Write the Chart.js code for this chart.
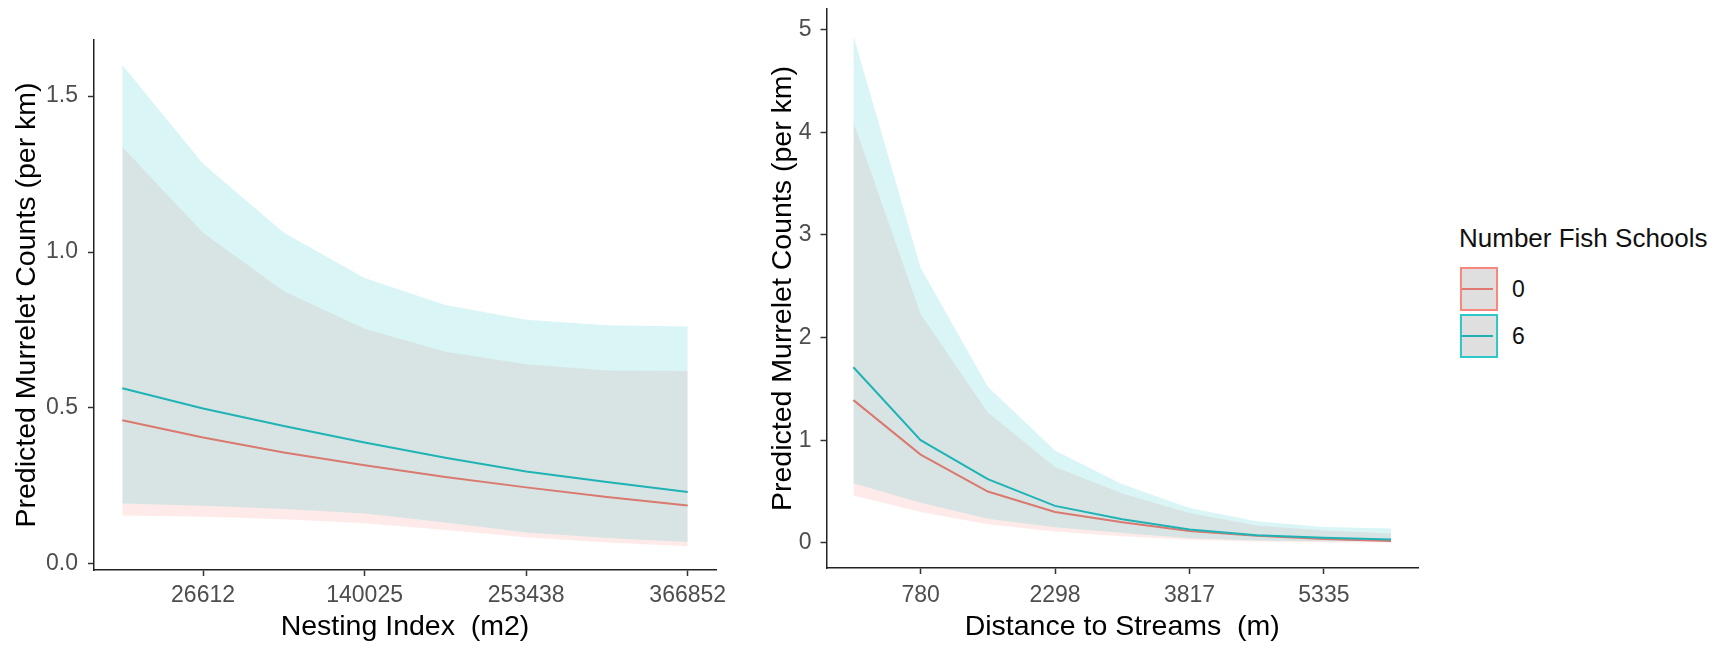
<!DOCTYPE html>
<html>
<head>
<meta charset="utf-8">
<script src="https://cdn.jsdelivr.net/npm/chart.js@4.4.1/dist/chart.umd.min.js"></script>
<style>
  body { margin: 0; background: #fff; width: 1729px; height: 647px; overflow: hidden; position: relative;
         font-family: 'Liberation Sans', Arial, sans-serif; }
  canvas { position: absolute; top: 0; }
  #nesting { left: 0; }
  #streams { left: 745px; }
  .lg-title { position: absolute; left: 1459px; top: 223px; font-size: 26px; line-height: 30px; color: #111; white-space: nowrap; }
  .key { position: absolute; left: 1460px; width: 38px; height: 44px; box-sizing: border-box; border: 2px solid; background: #dfdfdf; }
  .key i { position: absolute; left: 0; right: 3px; top: 19px; height: 2px; }
  .key-label { position: absolute; left: 1512px; font-size: 23px; line-height: 26px; color: #111; }
</style>
</head>
<body>
<canvas id="nesting" width="740" height="647"></canvas>
<canvas id="streams" width="700" height="647"></canvas>

<div class="lg-title">Number Fish Schools</div>
<div class="key" style="top:267px;border-color:#f8877e"><i style="background:#e07a70"></i></div>
<div class="key-label" style="top:276px">0</div>
<div class="key" style="top:314px;border-color:#2ec8cc"><i style="background:#1fb0b3"></i></div>
<div class="key-label" style="top:323px">6</div>

<script>
// left panel: nesting index
const nestingX = [-30095, 26612, 83318, 140025, 196732, 253438, 310145, 366852];
const nestingTicks = [26612, 140025, 253438, 366852];
const nestingYTicks = [0, 0.5, 1.0, 1.5];
const nestingFit0 = [0.460, 0.405, 0.357, 0.316, 0.278, 0.245, 0.214, 0.187];
const nestingLow0 = [0.155, 0.151, 0.143, 0.130, 0.108, 0.085, 0.068, 0.056];
const nestingHigh0 = [1.337, 1.062, 0.874, 0.754, 0.680, 0.640, 0.620, 0.618];
const nestingFit6 = [0.563, 0.498, 0.442, 0.389, 0.340, 0.296, 0.262, 0.230];
const nestingLow6 = [0.193, 0.186, 0.176, 0.161, 0.132, 0.100, 0.083, 0.070];
const nestingHigh6 = [1.600, 1.283, 1.062, 0.917, 0.830, 0.783, 0.765, 0.761];

// right panel: distance to streams
const streamX = [21, 780, 1539, 2298, 3058, 3817, 4576, 5335, 6094];
const streamTicks = [780, 2298, 3817, 5335];
const streamYTicks = [0, 1, 2, 3, 4, 5];
const streamFit0 = [1.39, 0.86, 0.50, 0.30, 0.20, 0.115, 0.07, 0.037, 0.018];
const streamLow0 = [0.46, 0.30, 0.18, 0.11, 0.065, 0.03, 0.012, 0.006, 0.004];
const streamHigh0 = [4.10, 2.23, 1.27, 0.74, 0.48, 0.29, 0.17, 0.12, 0.09];
const streamFit6 = [1.71, 1.00, 0.62, 0.36, 0.23, 0.13, 0.075, 0.05, 0.032];
const streamLow6 = [0.58, 0.39, 0.235, 0.153, 0.095, 0.045, 0.022, 0.015, 0.012];
const streamHigh6 = [4.94, 2.68, 1.52, 0.90, 0.57, 0.34, 0.21, 0.155, 0.14];

const FONT = "'Liberation Sans', Arial, sans-serif";
const tickFont = { family: FONT, size: 23, lineHeight: 1 };
const titleFont = { family: FONT, size: 28.5, lineHeight: 1 };
const none = 'rgba(0,0,0,0)';

function pts(xs, ys) {
  return xs.map((x, i) => ({ x, y: ys[i] }));
}

// lines first so they end up drawn on top, teal ribbon above the red one
function makeDatasets(xs, fit0, low0, high0, fit6, low6, high6) {
  return [
    { label: '6', data: pts(xs, fit6), borderColor: '#1fb3b6', borderWidth: 2, fill: false },
    { label: '0', data: pts(xs, fit0), borderColor: '#d9796f', borderWidth: 2, fill: false },
    { label: 'hi6', data: pts(xs, high6), borderColor: none, fill: '+1', backgroundColor: 'rgba(0,191,196,0.15)' },
    { label: 'lo6', data: pts(xs, low6), borderColor: none, fill: false },
    { label: 'hi0', data: pts(xs, high0), borderColor: none, fill: '+1', backgroundColor: 'rgba(248,118,109,0.15)' },
    { label: 'lo0', data: pts(xs, low0), borderColor: none, fill: false },
  ];
}

const grid = { drawOnChartArea: false, drawTicks: true, tickLength: 6, tickColor: '#333', tickWidth: 1.5 };
const border = { display: true, color: '#222', width: 1.5 };

function xAxis(min, max, ticks, title, height, labelPad) {
  return {
    type: 'linear', min, max,
    afterBuildTicks: s => { s.ticks = ticks.map(v => ({ value: v })); },
    afterFit: s => { s.height = height; s.paddingLeft = 0; s.paddingRight = 0; },
    ticks: { color: '#4d4d4d', font: tickFont, padding: labelPad, maxRotation: 0, autoSkip: false, callback: v => String(v) },
    grid, border,
    title: { display: true, text: title, color: '#000', font: titleFont, padding: { top: 0, bottom: 6 } },
  };
}

function yAxis(min, max, ticks, digits, width, labelPad, titlePad) {
  return {
    type: 'linear', min, max,
    afterBuildTicks: s => { s.ticks = ticks.map(v => ({ value: v })); },
    afterFit: s => { s.width = width; s.paddingTop = 0; s.paddingBottom = 0; },
    ticks: { color: '#4d4d4d', font: tickFont, padding: labelPad, autoSkip: false, callback: v => v.toFixed(digits) },
    grid, border,
    title: { display: true, text: 'Predicted Murrelet Counts (per km)', color: '#000', font: titleFont, padding: { top: titlePad, bottom: 0 } },
  };
}

function drawPanel(id, datasets, x, y, padding) {
  return new Chart(document.getElementById(id), {
    type: 'line',
    data: { datasets },
    options: {
      responsive: false,
      animation: false,
      devicePixelRatio: 1,
      layout: { padding },
      elements: { point: { radius: 0 }, line: { tension: 0 } },
      plugins: { legend: { display: false }, tooltip: { enabled: false } },
      scales: { x, y },
    },
  });
}

drawPanel('nesting',
  makeDatasets(nestingX, nestingFit0, nestingLow0, nestingHigh0, nestingFit6, nestingLow6, nestingHigh6),
  xAxis(-49942, 386699, nestingTicks, 'Nesting Index  (m2)', 77, 8),
  yAxis(-0.02, 1.68, nestingYTicks, 1, 94, 10, 13),
  { left: 0, top: 40, right: 24, bottom: 0 });

drawPanel('streams',
  makeDatasets(streamX, streamFit0, streamLow0, streamHigh0, streamFit6, streamLow6, streamHigh6),
  xAxis(-283, 6398, streamTicks, 'Distance to Streams  (m)', 79, 10),
  yAxis(-0.245, 5.2, streamYTicks, 0, 81.5, 9, 23.5),
  { left: 0, top: 9, right: 27, bottom: 0 });
</script>
</body>
</html>
